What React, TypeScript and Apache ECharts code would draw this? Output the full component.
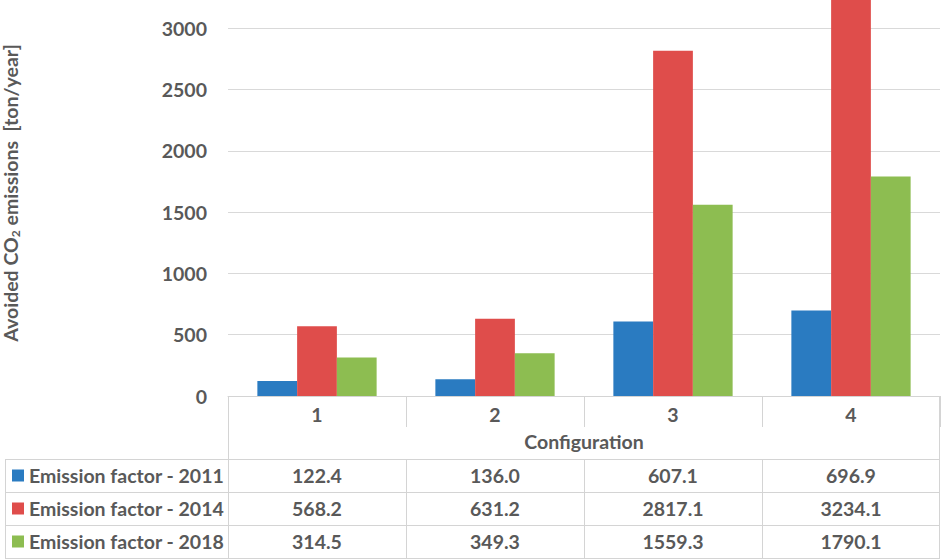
import React, { useEffect, useRef } from "react";
import * as echarts from "echarts";

const categories = ["1", "2", "3", "4"];
const seriesNames = ["Emission factor - 2011", "Emission factor - 2014", "Emission factor - 2018"];
const ef2011 = [122.4, 136.0, 607.1, 696.9];
const ef2014 = [568.2, 631.2, 2817.1, 3234.1];
const ef2018 = [314.5, 349.3, 1559.3, 1790.1];
const seriesValues = [ef2011, ef2014, ef2018];
const colors = ["#2A7BC1", "#DF4D4B", "#8DBD51"];
const xAxisTitle = "Configuration";

const FONT = "Lato";
const FS = 19.5;
const TEXT = "#595959";
const GRID_LINE = "#D9D9D9";
const TABLE_LINE = "#D4D4D4";
const W = 941;
const H = 559;

export default function App() {
  const ref = useRef<HTMLDivElement>(null);
  useEffect(() => {
    if (!ref.current) return;
    const chart = echarts.init(ref.current, undefined, { renderer: "svg" });
    const option: any = {
      animation: false,
      textStyle: { fontFamily: FONT },
      grid: { left: 228, right: 1, top: -33, bottom: 163, containLabel: false, outerBoundsMode: "none" },
      xAxis: {
        type: "category",
        data: categories,
        axisLine: { show: true, lineStyle: { color: TABLE_LINE, width: 1 } },
        axisTick: { show: true, length: 31, lineStyle: { color: TABLE_LINE } },
        axisLabel: { margin: 8, fontSize: FS, fontWeight: "bold", color: TEXT, fontFamily: FONT },
        name: xAxisTitle,
        nameLocation: "middle",
        nameGap: 35,
        nameTextStyle: { fontSize: FS, fontWeight: "bold", color: TEXT, fontFamily: FONT },
      },
      yAxis: {
        type: "value",
        min: 0,
        max: 3500,
        interval: 500,
        axisLine: { show: false },
        axisTick: { show: false },
        axisLabel: {
          margin: 21,
          fontSize: FS,
          fontWeight: "bold",
          color: TEXT,
          fontFamily: FONT,
          showMaxLabel: false,
          formatter: (v: number) => String(v),
        },
        splitLine: { lineStyle: { color: GRID_LINE, width: 1 } },
      },
      series: seriesNames.map((name, i) => ({
        name,
        type: "bar",
        data: seriesValues[i],
        barGap: "0%",
        barCategoryGap: "33%",
        itemStyle: { color: colors[i] },
      })),
    };
    chart.setOption(option);

    const c0 = chart.convertToPixel({ xAxisIndex: 0 }, categories[0]) as number;
    const c1 = chart.convertToPixel({ xAxisIndex: 0 }, categories[1]) as number;
    const band = c1 - c0;
    const xStart = c0 - band / 2;
    const xEnd = xStart + band * categories.length;
    const yBase = chart.convertToPixel({ yAxisIndex: 0 }, 0) as number;
    const headerBottom = yBase + 63;
    const rowH = 33;
    const tableLeft = 5;

    const lineStyle = { stroke: TABLE_LINE, lineWidth: 1 };
    const elems: any[] = [];
    for (let r = 0; r <= seriesNames.length; r++) {
      const y = Math.round(headerBottom + r * rowH) + 0.5;
      elems.push({ type: "line", shape: { x1: tableLeft, y1: y, x2: xEnd, y2: y }, style: lineStyle, silent: true });
    }
    const tableBottom = headerBottom + seriesNames.length * rowH;
    elems.push({ type: "line", shape: { x1: tableLeft + 0.5, y1: headerBottom, x2: tableLeft + 0.5, y2: tableBottom }, style: lineStyle });
    elems.push({ type: "line", shape: { x1: Math.round(xStart) + 0.5, y1: yBase, x2: Math.round(xStart) + 0.5, y2: tableBottom }, style: lineStyle });
    elems.push({ type: "line", shape: { x1: Math.round(xEnd) - 0.5, y1: yBase, x2: Math.round(xEnd) - 0.5, y2: tableBottom }, style: lineStyle });
    for (let k = 1; k < categories.length; k++) {
      const x = Math.round(xStart + k * band) + 0.5;
      elems.push({ type: "line", shape: { x1: x, y1: headerBottom, x2: x, y2: tableBottom }, style: lineStyle });
    }
    seriesNames.forEach((name, r) => {
      const cy = headerBottom + r * rowH + rowH / 2;
      elems.push({ type: "rect", shape: { x: 12, y: cy - 6, width: 12, height: 12 }, style: { fill: colors[r] } });
      elems.push({
        type: "text",
        x: 29,
        y: cy,
        style: { text: name, fontSize: FS, fontWeight: "bold", fill: TEXT, fontFamily: FONT, align: "left", verticalAlign: "middle" },
      });
      seriesValues[r].forEach((v, k) => {
        const cx = chart.convertToPixel({ xAxisIndex: 0 }, categories[k]) as number;
        elems.push({
          type: "text",
          x: cx,
          y: cy,
          style: { text: v.toFixed(1), fontSize: FS, fontWeight: "bold", fill: TEXT, fontFamily: FONT, align: "center", verticalAlign: "middle" },
        });
      });
    });
    elems.push({
      type: "text",
      x: 10,
      y: 193,
      rotation: Math.PI / 2,
      style: {
        text: "{a|Avoided CO}{s|2}{a| emissions  [ton/year]}",
        align: "center",
        verticalAlign: "middle",
        rich: {
          a: { fontSize: FS, fontWeight: "bold", fill: TEXT, fontFamily: FONT, lineHeight: 22 },
          s: { fontSize: 12, fontWeight: "bold", fill: TEXT, fontFamily: FONT, verticalAlign: "bottom", lineHeight: 12 },
        },
      },
    });
    chart.setOption({ graphic: { elements: elems } });

    return () => chart.dispose();
  }, []);
  return <div ref={ref} style={{ position: "absolute", left: 0, top: 0, width: W, height: H }} />;
}
